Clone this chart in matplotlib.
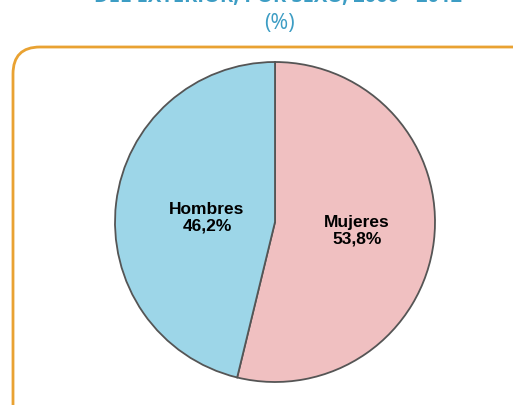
import matplotlib.pyplot as plt
from matplotlib.patches import FancyBboxPatch

labels = ['Mujeres', 'Hombres']
values = [53.8, 46.2]
colors = ['#f0c0c1', '#9dd6e8']
pct_text = ['53,8%', '46,2%']

W, H = 513, 406
fig = plt.figure(figsize=(W / 100, H / 100), dpi=100)
ax = fig.add_axes([0, 0, 1, 1])

# frame
box = FancyBboxPatch((13, -60), 530, 418, boxstyle='round,pad=0,rounding_size=27',
                     fill=False, edgecolor='#e9a232', linewidth=2)
ax.add_patch(box)

# title (first line cropped at the top)
title_col = '#3d9dc4'
ax.text(278, 404, 'DEL EXTERIOR, POR SEXO, 2000 - 2012', ha='center', va='baseline',
        fontsize=14.5, fontweight='bold', color=title_col, family='Open Sans')
ax.text(279, 382, '(%)', ha='center', va='center', fontsize=15.5,
        color=title_col, family='Open Sans')

wedges, _ = ax.pie(values, colors=colors, startangle=90, counterclock=False,
                   radius=160, center=(275, 183), frame=True,
                   wedgeprops=dict(edgecolor='#555555', linewidth=1.3))
ax.set_xlim(0, W)
ax.set_ylim(0, H)
ax.set_aspect('equal')
ax.axis('off')

lab_font = ['Liberation Sans Narrow', 'Liberation Sans', 'DejaVu Sans']
ax.text(357, 175, labels[0] + '\n' + pct_text[0], ha='center', va='center',
        fontsize=12.5, fontweight='bold', family=lab_font, linespacing=1.15)
ax.text(207, 188, labels[1] + '\n' + pct_text[1], ha='center', va='center',
        fontsize=12.5, fontweight='bold', family=lab_font, linespacing=1.15)

fig.savefig('out.png', dpi=100)
